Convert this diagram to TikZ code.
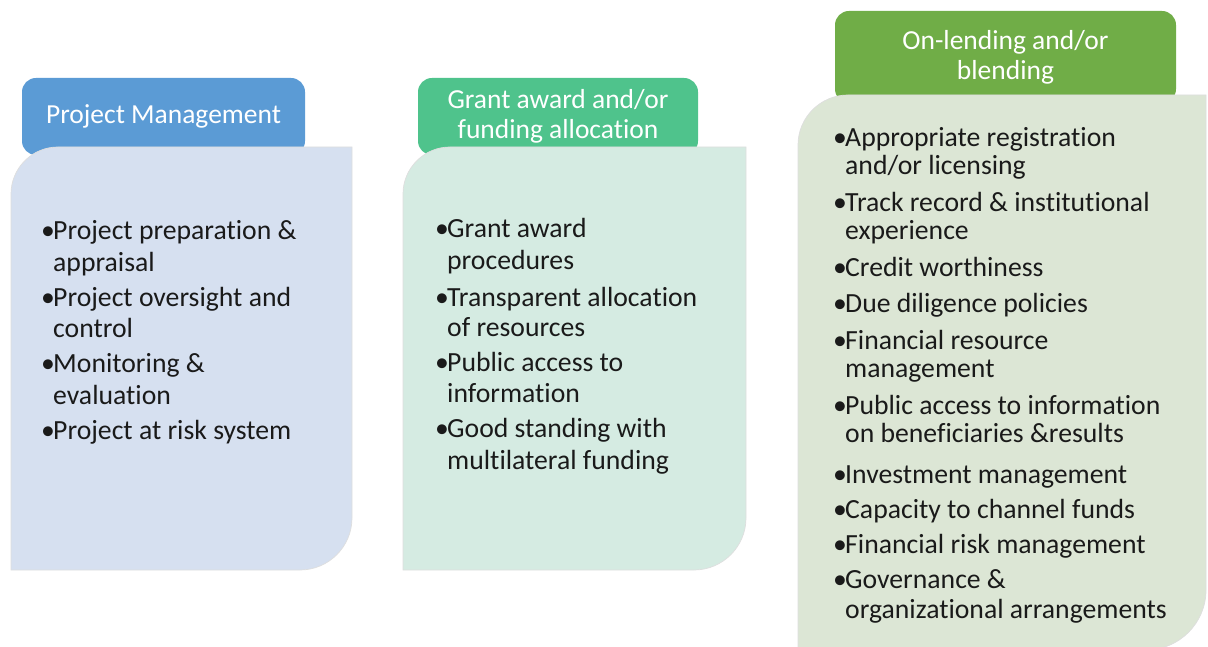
\documentclass[tikz,border=0pt]{standalone}
\usepackage{fontspec}
\setmainfont{Carlito}[Ligatures=NoCommon]
\definecolor{hdone}{HTML}{5B9BD5}
\definecolor{bdone}{HTML}{D6E0F0}
\definecolor{hdtwo}{HTML}{4FC38C}
\definecolor{bdtwo}{HTML}{D5EBE2}
\definecolor{hdthree}{HTML}{70AD47}
\definecolor{bdthree}{HTML}{DCE6D5}
\definecolor{txt}{HTML}{1A1A1A}
\newcommand{\bulletmark}{\makebox[12pt][l]{\textbullet}}
\newcommand{\contindent}{\hspace*{12pt}}
\tikzset{
  header/.style={rounded corners=14pt, text=white, align=center, inner sep=0pt,
    font=\fontsize{27.5}{30}\selectfont},
  bodyline/.style={anchor=base west, inner sep=0pt, text=txt, font=\fontsize{27.7}{30}\selectfont},
  bodyedge/.style={draw=black!13, line width=0.7pt}
}
\begin{document}
\begin{tikzpicture}[x=1pt,y=1pt]
\useasboundingbox (0,0) rectangle (1208,646);
\clip (0,0) rectangle (1208,646);
% ---------- column 1 ----------
\node[header, fill=hdone, minimum width=283pt, minimum height=77pt] (h1) at (163.5,646-116.5) {Project Management};
\path[fill=bdone, bodyedge] (11,646-570) -- (11,646-147-47) arc[start angle=180,end angle=90,radius=47] -- (352,646-147) -- (352,646-570+52) arc[start angle=0,end angle=-90,radius=52] -- cycle;
\foreach \n/\y/\t in {1/240/{\bulletmark Project preparation \&},
                      2/272/{\contindent appraisal},
                      3/307/{\bulletmark Project oversight and},
                      4/338/{\contindent control},
                      5/373/{\bulletmark Monitoring \&},
                      6/405/{\contindent evaluation},
                      7/440/{\bulletmark Project at risk system}}
  \node[bodyline] (a\n) at (41,646-\y) {\t};
% ---------- column 2 ----------
\node[header, fill=hdtwo, minimum width=280pt, minimum height=77pt] (h2) at (558,646-116.5) {Grant award and/or\\funding allocation};
\path[fill=bdtwo, bodyedge] (403,646-570) -- (403,646-147-47) arc[start angle=180,end angle=90,radius=47] -- (746,646-147) -- (746,646-570+52) arc[start angle=0,end angle=-90,radius=52] -- cycle;
\foreach \n/\y/\t in {1/238/{\bulletmark Grant award},
                      2/270/{\contindent procedures},
                      3/307/{\bulletmark Transparent allocation},
                      4/337/{\contindent of resources},
                      5/372/{\bulletmark Public access to},
                      6/403/{\contindent information},
                      7/438/{\bulletmark Good standing with},
                      8/470/{\contindent multilateral funding}}
  \node[bodyline] (b\n) at (435,646-\y) {\t};
% ---------- column 3 ----------
\node[header, fill=hdthree, minimum width=341pt, minimum height=92pt] (h3) at (1005.5,646-57) {On-lending and/or\\blending};
\path[fill=bdthree, bodyedge] (798,-4) -- (798,646-95-50) arc[start angle=180,end angle=90,radius=50] -- (1206,646-95) -- (1206,-4+60) arc[start angle=0,end angle=-90,radius=60] -- cycle;
\foreach \n/\y/\t in {1/147/{\bulletmark Appropriate registration},
                      2/175/{\contindent and/or licensing},
                      3/212/{\bulletmark Track record \& institutional},
                      4/240/{\contindent experience},
                      5/277/{\bulletmark Credit worthiness},
                      6/313/{\bulletmark Due diligence policies},
                      7/350/{\bulletmark Financial resource},
                      8/378/{\contindent management},
                      9/415/{\bulletmark Public access to information},
                      10/443/{\contindent on beneficiaries \&results},
                      11/483/{\bulletmark Investment management},
                      12/518/{\bulletmark Capacity to channel funds},
                      13/553/{\bulletmark Financial risk management},
                      14/588/{\bulletmark Governance \&},
                      15/618/{\contindent organizational arrangements}}
  \node[bodyline] (c\n) at (833,646-\y) {\t};
\end{tikzpicture}
\end{document}
